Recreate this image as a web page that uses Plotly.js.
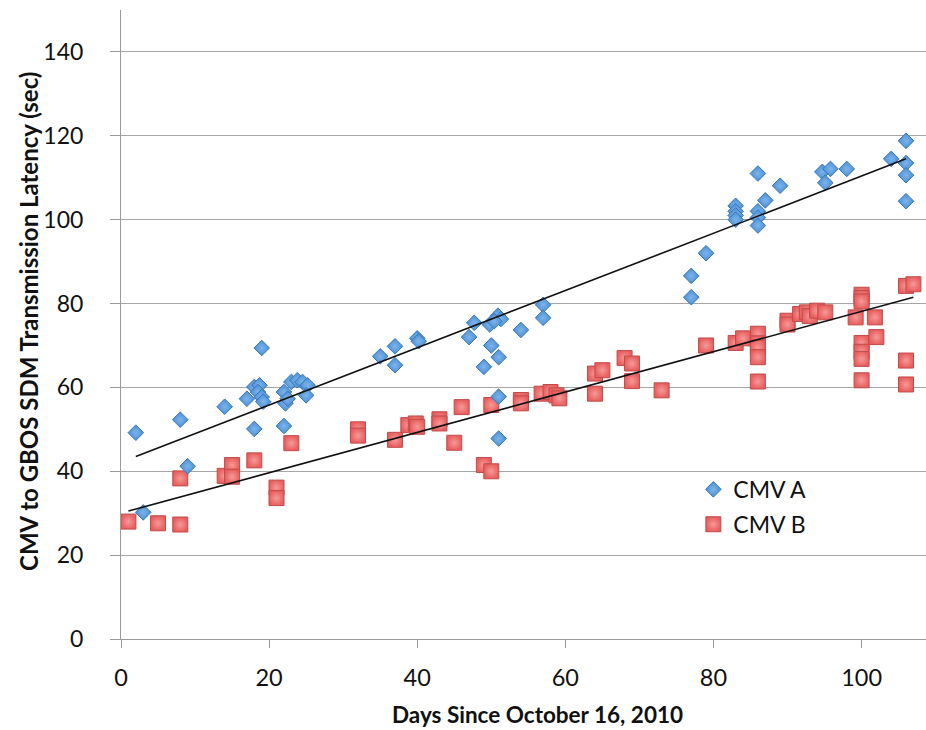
<!DOCTYPE html>
<html>
<head>
<meta charset="utf-8">
<script src="https://cdn.plot.ly/plotly-3.0.1.min.js"></script>
<style>
  html, body { margin: 0; padding: 0; background: #ffffff; }
  #chart { width: 926px; height: 730px; }
</style>
</head>
<body>
<div id="chart"></div>
<script>
// ---- Data ----
const seriesNames = ["CMV A", "CMV B"];

const cmvA_days = [
  2, 3, 8, 9, 14, 17, 18, 19,
  18, 18.7, 18.5, 19, 19.2,
  22, 22, 22.2, 22.5,
  23, 23.8, 24.5, 25.2, 25,
  35, 37, 37, 40, 40.2,
  47, 47.7, 49, 50, 49.8, 50.9, 51.3, 50.4, 51, 51, 51,
  54, 57, 57,
  77, 77, 79,
  83, 83, 83, 83,
  86, 86, 86, 86, 87,
  89,
  94.7, 95.8, 95.1,
  98,
  104, 106, 106, 106, 106
];
const cmvA_latency = [
  49.2, 30.2, 52.3, 41.2, 55.4, 57.3, 50.1, 69.4,
  60.1, 60.5, 58.9, 57.7, 56.6,
  50.8, 58.9, 56.2, 57.3,
  61.3, 61.7, 61.3, 60.5, 58.1,
  67.4, 69.8, 65.3, 71.7, 71.0,
  72.0, 75.4, 64.9, 70.0, 75.0, 77.1, 76.3, 75.8, 67.2, 57.8, 47.8,
  73.7, 79.7, 76.6,
  86.6, 81.5, 92.0,
  103.3, 102.0, 101.0, 100.0,
  111.0, 102.0, 100.5, 98.6, 104.6,
  108.1,
  111.4, 112.1, 108.8,
  112.1,
  114.5, 118.8, 113.5, 110.6, 104.4
];

const cmvB_days = [
  1, 5, 8, 8, 14, 15, 15, 18, 21, 21, 23,
  32, 32, 37, 38.8, 39.8, 40, 43, 43, 45, 46, 49, 50, 50,
  54, 54, 56.8, 58, 58.8, 59.2,
  64, 65, 64, 68, 69, 69, 73,
  79, 83, 84, 86, 86, 86, 86, 86,
  90, 90, 91.7, 92.6, 93, 94, 95.1,
  100, 100, 100, 99.2, 101.8, 100, 100, 100, 100, 102,
  106, 107, 106, 106
];
const cmvB_latency = [
  28.0, 27.6, 27.3, 38.3, 38.9, 41.5, 38.7, 42.6, 36.1, 33.6, 46.7,
  50.0, 48.5, 47.5, 51.0, 51.4, 50.6, 52.4, 51.4, 46.8, 55.3, 41.5, 40.0, 55.8,
  57.0, 56.2, 58.5, 58.9, 58.1, 57.4,
  63.3, 64.1, 58.5, 67.0, 65.7, 61.5, 59.3,
  70.0, 70.6, 71.7, 72.8, 70.5, 69.5, 67.2, 61.4,
  75.9, 75.0, 77.5, 77.9, 77.0, 78.3, 77.9,
  82.1, 81.3, 80.5, 76.7, 76.7, 70.6, 68.5, 66.8, 61.7, 72.0,
  84.2, 84.6, 66.4, 60.7
];

// Trend lines as drawn in the reference (end values)
const trendA_days = [2, 106];
const trendA_latency = [43.5, 114.5];
const trendB_days = [1, 107];
const trendB_latency = [30.5, 81.5];

const xTickVals = [0, 20, 40, 60, 80, 100];
const yTickVals = [0, 20, 40, 60, 80, 100, 120, 140];
const xTitle = "Days Since October 16, 2010";
const yTitle = "CMV to GBOS SDM Transmission Latency (sec)";

const FONT = "Lato, 'Open Sans', Arial, sans-serif";

const traces = [
  {
    type: "scatter", mode: "markers", name: seriesNames[1],
    x: cmvB_days, y: cmvB_latency,
    legendgroup: "b", legendrank: 2,
    marker: {
      symbol: "square", size: 15, color: "#e85f5f",
      gradient: { type: "radial", color: "#f59a98" },
      line: { color: "#c24a4a", width: 1 }
    }
  },
  {
    type: "scatter", mode: "markers", name: seriesNames[0],
    x: cmvA_days, y: cmvA_latency,
    legendgroup: "a", legendrank: 1,
    marker: {
      symbol: "diamond", size: 12, color: "#4a8fd6",
      gradient: { type: "radial", color: "#7db4ea" },
      line: { color: "#3a77b6", width: 1 }
    }
  },
  {
    type: "scatter", mode: "lines", showlegend: false, hoverinfo: "skip",
    x: trendA_days, y: trendA_latency, line: { color: "#111111", width: 1.6 }
  },
  {
    type: "scatter", mode: "lines", showlegend: false, hoverinfo: "skip",
    x: trendB_days, y: trendB_latency, line: { color: "#111111", width: 1.6 }
  }
];

const layout = {
  width: 926, height: 730,
  margin: { l: 121, r: 0, t: 10, b: 91 },
  paper_bgcolor: "#ffffff", plot_bgcolor: "#ffffff",
  font: { family: FONT, color: "#111111" },
  showlegend: true,
  legend: {
    x: 0.711, y: 0.272, xanchor: "left", yanchor: "top",
    bgcolor: "rgba(0,0,0,0)", borderwidth: 0,
    font: { family: FONT, size: 23, color: "#111111" },
    traceorder: "grouped", tracegroupgap: 2
  },
  xaxis: {
    range: [0, 108.7], tickvals: xTickVals,
    showgrid: false, zeroline: false,
    showline: true, linecolor: "#9a9a9a", linewidth: 1,
    ticks: "outside", ticklen: 8, tickcolor: "#9a9a9a",
    ticklabelstandoff: 10,
    tickfont: { family: FONT, size: 23.5, color: "#111111" }
  },
  yaxis: {
    range: [0, 150], tickvals: yTickVals,
    showgrid: true, gridcolor: "#a6a6a6", gridwidth: 1,
    zeroline: false,
    showline: true, linecolor: "#9a9a9a", linewidth: 1,
    ticks: "outside", ticklen: 10, tickcolor: "#9a9a9a",
    ticklabelstandoff: 22,
    tickfont: { family: FONT, size: 23, color: "#111111" }
  },
  annotations: [
    {
      text: xTitle, xref: "paper", yref: "paper",
      x: 0.518, y: 0, xanchor: "center", yanchor: "middle", yshift: -75,
      showarrow: false,
      font: { family: FONT, size: 22.5, weight: "bold", color: "#111111" }
    },
    {
      text: yTitle, xref: "paper", yref: "paper", textangle: -90,
      x: 0, y: 0.504, xanchor: "center", yanchor: "middle", xshift: -92,
      showarrow: false,
      font: { family: FONT, size: 24, weight: "bold", color: "#111111" }
    }
  ]
};

Plotly.newPlot("chart", traces, layout, { displayModeBar: false, staticPlot: true });
</script>
</body>
</html>
